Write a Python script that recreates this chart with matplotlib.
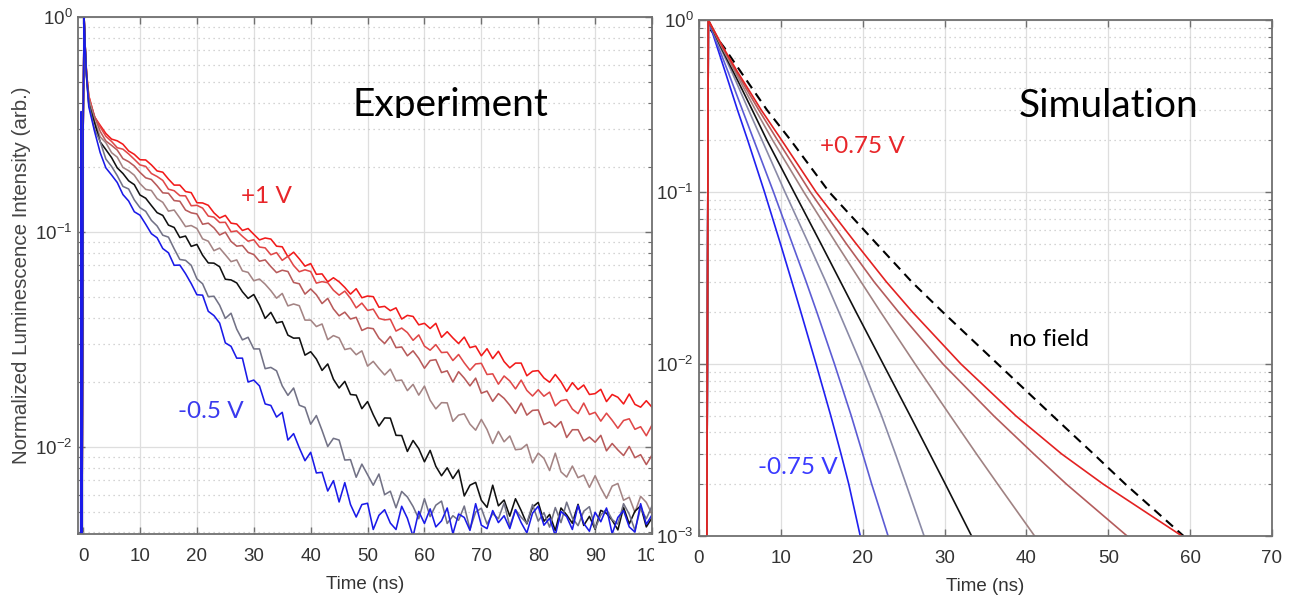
import matplotlib
matplotlib.use('Agg')
import matplotlib.pyplot as plt
import numpy as np
from matplotlib.patches import Rectangle
from matplotlib.transforms import Bbox, TransformedBbox

plt.rcParams.update({
    'font.family': ['Liberation Sans', 'DejaVu Sans'],
    'font.size': 13.5,
    'axes.unicode_minus': False,
})

# ------------------------------------
# experiment data (log10 of normalized intensity)
# ------------------------------------
exp_time_early = [-1.0, -0.45, -0.35, -0.25, 0.0, 0.17, 0.35, 0.6]
exp_time = exp_time_early + list(range(1, 101))

exp_plus1V = [-3.0, -3.0, -3.0, -3.0, -0.55, 0.0, -0.13, -0.26,
    -0.368, -0.465, -0.504, -0.542, -0.568, -0.576, -0.592, -0.623, -0.639, -0.664,
    -0.665, -0.688, -0.716, -0.722, -0.754, -0.782, -0.782, -0.812, -0.817, -0.864,
    -0.865, -0.876, -0.911, -0.935, -0.923, -0.959, -0.963, -0.993, -0.984, -1.011,
    -1.037, -1.028, -1.033, -1.066, -1.069, -1.115, -1.094, -1.125, -1.159, -1.147,
    -1.197, -1.195, -1.232, -1.213, -1.232, -1.258, -1.289, -1.264, -1.306, -1.298,
    -1.301, -1.350, -1.346, -1.366, -1.353, -1.405, -1.388, -1.393, -1.432, -1.425,
    -1.449, -1.425, -1.490, -1.464, -1.493, -1.519, -1.489, -1.538, -1.531, -1.576,
    -1.543, -1.589, -1.555, -1.603, -1.632, -1.610, -1.610, -1.669, -1.648, -1.645,
    -1.679, -1.699, -1.663, -1.697, -1.742, -1.701, -1.733, -1.712, -1.756, -1.752,
    -1.732, -1.789, -1.756, -1.769, -1.800, -1.754, -1.802, -1.815, -1.785, -1.815]

exp_plus075V = [-3.0, -3.0, -3.0, -3.0, -0.55, 0.0, -0.13, -0.26,
    -0.368, -0.464, -0.511, -0.555, -0.579, -0.608, -0.615, -0.637, -0.662, -0.688,
    -0.695, -0.728, -0.742, -0.760, -0.801, -0.808, -0.831, -0.832, -0.878, -0.876,
    -0.889, -0.926, -0.931, -0.956, -0.955, -0.999, -0.995, -1.020, -1.043, -1.036,
    -1.070, -1.074, -1.106, -1.096, -1.132, -1.113, -1.156, -1.185, -1.176, -1.184,
    -1.238, -1.231, -1.236, -1.271, -1.294, -1.275, -1.309, -1.353, -1.331, -1.365,
    -1.359, -1.402, -1.409, -1.406, -1.461, -1.447, -1.468, -1.504, -1.479, -1.531,
    -1.550, -1.524, -1.561, -1.559, -1.598, -1.570, -1.609, -1.643, -1.614, -1.611,
    -1.663, -1.660, -1.708, -1.670, -1.693, -1.730, -1.689, -1.737, -1.763, -1.734,
    -1.764, -1.745, -1.809, -1.785, -1.780, -1.824, -1.845, -1.796, -1.849, -1.839,
    -1.880, -1.843, -1.876, -1.913, -1.877, -1.869, -1.918, -1.906, -1.948, -1.898]

exp_plus05V = [-3.0, -3.0, -3.0, -3.0, -0.55, 0.0, -0.13, -0.27,
    -0.385, -0.461, -0.532, -0.577, -0.597, -0.619, -0.659, -0.673, -0.693, -0.723,
    -0.748, -0.756, -0.785, -0.818, -0.820, -0.854, -0.857, -0.898, -0.911, -0.916,
    -0.964, -0.959, -0.981, -1.014, -1.001, -1.044, -1.066, -1.063, -1.095, -1.105,
    -1.136, -1.130, -1.161, -1.189, -1.178, -1.184, -1.235, -1.241, -1.289, -1.265,
    -1.292, -1.333, -1.309, -1.358, -1.390, -1.373, -1.405, -1.397, -1.458, -1.446,
    -1.450, -1.494, -1.519, -1.486, -1.538, -1.535, -1.576, -1.553, -1.588, -1.634,
    -1.598, -1.594, -1.654, -1.646, -1.698, -1.650, -1.680, -1.716, -1.680, -1.750,
    -1.740, -1.788, -1.752, -1.774, -1.806, -1.844, -1.796, -1.852, -1.830, -1.828,
    -1.896, -1.884, -1.908, -1.882, -1.956, -1.920, -1.920, -1.972, -1.954, -1.978,
    -1.946, -2.018, -1.984, -2.014, -2.040, -1.998, -2.050, -2.036, -2.082, -2.038]

exp_plus025V = [-3.0, -3.0, -3.0, -3.0, -0.55, 0.0, -0.13, -0.27,
    -0.380, -0.482, -0.558, -0.585, -0.631, -0.652, -0.700, -0.715, -0.736, -0.775,
    -0.802, -0.807, -0.845, -0.862, -0.903, -0.898, -0.935, -0.975, -0.970, -0.984,
    -1.032, -1.043, -1.087, -1.075, -1.106, -1.138, -1.130, -1.181, -1.188, -1.227,
    -1.219, -1.243, -1.273, -1.308, -1.286, -1.344, -1.335, -1.343, -1.410, -1.410,
    -1.440, -1.428, -1.501, -1.482, -1.493, -1.547, -1.541, -1.571, -1.553, -1.624,
    -1.602, -1.635, -1.665, -1.638, -1.692, -1.689, -1.738, -1.709, -1.759, -1.717,
    -1.783, -1.823, -1.794, -1.795, -1.881, -1.852, -1.846, -1.894, -1.922, -1.872,
    -1.919, -1.984, -1.928, -1.976, -1.949, -2.013, -2.010, -1.988, -2.074, -2.029,
    -2.053, -2.110, -2.029, -2.116, -2.140, -2.089, -2.143, -2.131, -2.188, -2.134,
    -2.191, -2.239, -2.182, -2.170, -2.248, -2.234, -2.304, -2.230, -2.258, -2.313]

exp_0V = [-3.0, -3.0, -3.0, -3.0, -0.55, 0.0, -0.13, -0.27,
    -0.404, -0.492, -0.581, -0.617, -0.654, -0.702, -0.728, -0.762, -0.780, -0.828,
    -0.843, -0.877, -0.910, -0.923, -0.968, -0.979, -1.026, -1.019, -1.067, -1.058,
    -1.108, -1.144, -1.145, -1.162, -1.220, -1.223, -1.237, -1.278, -1.309, -1.291,
    -1.340, -1.402, -1.374, -1.423, -1.417, -1.480, -1.494, -1.493, -1.573, -1.557,
    -1.591, -1.644, -1.614, -1.685, -1.726, -1.695, -1.756, -1.759, -1.822, -1.789,
    -1.850, -1.903, -1.865, -1.866, -1.946, -1.947, -2.021, -1.970, -2.008, -2.069,
    -2.016, -2.090, -2.134, -2.097, -2.147, -2.107, -2.228, -2.178, -2.165, -2.248,
    -2.281, -2.178, -2.274, -2.247, -2.322, -2.241, -2.296, -2.358, -2.280, -2.258,
    -2.346, -2.314, -2.389, -2.284, -2.316, -2.355, -2.267, -2.365, -2.323, -2.383,
    -2.295, -2.309, -2.341, -2.386, -2.281, -2.358, -2.299, -2.274, -2.372, -2.330]

exp_minus025V = [-3.0, -3.0, -3.0, -3.0, -0.55, 0.0, -0.13, -0.28,
    -0.406, -0.521, -0.580, -0.661, -0.695, -0.738, -0.788, -0.800, -0.851, -0.887,
    -0.904, -0.946, -0.972, -1.015, -1.024, -1.078, -1.128, -1.132, -1.155, -1.218,
    -1.241, -1.301, -1.299, -1.341, -1.402, -1.378, -1.452, -1.502, -1.490, -1.544,
    -1.544, -1.636, -1.630, -1.646, -1.716, -1.760, -1.726, -1.806, -1.816, -1.894,
    -1.854, -1.923, -1.998, -1.960, -1.968, -2.061, -2.059, -2.141, -2.080, -2.129,
    -2.178, -2.126, -2.222, -2.206, -2.283, -2.207, -2.233, -2.277, -2.334, -2.241,
    -2.324, -2.271, -2.252, -2.356, -2.320, -2.341, -2.275, -2.383, -2.303, -2.285,
    -2.359, -2.310, -2.334, -2.261, -2.369, -2.292, -2.327, -2.355, -2.268, -2.345,
    -2.306, -2.373, -2.282, -2.352, -2.257, -2.331, -2.366, -2.299, -2.278, -2.380,
    -2.317, -2.289, -2.338, -2.359, -2.264, -2.313, -2.387, -2.285, -2.334, -2.275]

exp_minus05V = [-3.0, -3.0, -0.44, -3.0, -0.55, 0.0, -0.14, -0.28,
    -0.418, -0.531, -0.631, -0.702, -0.735, -0.770, -0.826, -0.856, -0.906, -0.922,
    -0.964, -1.008, -1.027, -1.077, -1.097, -1.155, -1.154, -1.194, -1.240, -1.292,
    -1.294, -1.369, -1.389, -1.424, -1.516, -1.532, -1.587, -1.587, -1.698, -1.689,
    -1.716, -1.800, -1.807, -1.861, -1.839, -1.968, -1.938, -2.004, -2.064, -2.025,
    -2.121, -2.118, -2.205, -2.157, -2.256, -2.166, -2.268, -2.326, -2.268, -2.262,
    -2.384, -2.318, -2.292, -2.354, -2.384, -2.276, -2.332, -2.416, -2.300, -2.356,
    -2.288, -2.372, -2.344, -2.284, -2.404, -2.312, -2.328, -2.388, -2.264, -2.364,
    -2.380, -2.296, -2.352, -2.320, -2.380, -2.292, -2.352, -2.400, -2.308, -2.276,
    -2.364, -2.332, -2.412, -2.300, -2.324, -2.384, -2.272, -2.356, -2.392, -2.304,
    -2.348, -2.284, -2.404, -2.328, -2.296, -2.372, -2.396, -2.264, -2.360, -2.316]

exp_series = [exp_plus1V, exp_plus075V, exp_plus05V, exp_plus025V, exp_0V, exp_minus025V, exp_minus05V]
exp_colors = ['#f21a1a', '#e04848', '#b85a5a', '#a48484', '#111111', '#727286', '#1a1ae8']

# ------------------------------------
# simulation data: time (ns) at which each curve crosses the intensity levels
# ------------------------------------
sim_levels = [3e-4, 1.0, 0.7, 0.5, 0.3, 0.2, 0.1, 0.05, 0.03, 0.02, 0.01, 0.005, 0.003, 0.002, 0.001]

sim_minus075V = [0.93, 1.14, 2.2, 3.2, 4.7, 5.95, 8.0, 9.95, 11.35, 12.45, 14.3, 16.1, 17.35, 18.3, 19.7]
sim_minus05V = [0.93, 1.14, 2.35, 3.55, 5.3, 6.7, 9.1, 11.4, 13.1, 14.4, 16.55, 18.6, 20.0, 21.1, 23.1]
sim_minus025V = [0.93, 1.14, 2.55, 4.0, 6.05, 7.7, 10.5, 13.4, 15.5, 17.1, 19.8, 22.3, 24.0, 25.3, 27.5]
sim_0V = [0.93, 1.14, 2.65, 4.2, 6.5, 8.3, 11.6, 14.9, 17.3, 19.2, 22.5, 25.8, 28.2, 30.1, 33.3]
sim_plus025V = [0.93, 1.14, 2.75, 4.4, 6.9, 9.0, 12.8, 16.8, 19.8, 22.2, 26.4, 30.7, 33.9, 36.5, 41.0]
sim_plus05V = [0.93, 1.14, 2.85, 4.55, 7.3, 9.6, 13.6, 18.0, 21.4, 24.4, 29.8, 36.0, 40.9, 44.9, 52.3]
sim_plus075V = [0.93, 1.14, 2.9, 4.7, 7.6, 10.1, 14.3, 19.2, 22.9, 26.1, 32.0, 38.7, 44.3, 49.4, 59.0]

sim_series = [sim_minus075V, sim_minus05V, sim_minus025V, sim_0V, sim_plus025V, sim_plus05V, sim_plus075V]
sim_colors = ['#2020f0', '#5c5cd4', '#8a8aa6', '#111111', '#a08282', '#b45c5c', '#e32222']

nofield_time = [1.40, 3.0, 5.1, 8.3, 11.2, 15.9, 21.7, 26.0, 29.8, 36.5, 43.2, 48.2, 52.1, 59.2]
nofield_level = [0.88, 0.7, 0.5, 0.3, 0.2, 0.1, 0.05, 0.03, 0.02, 0.01, 0.005, 0.003, 0.002, 0.001]


def style_axes(ax):
    ax.set_yscale('log')
    ax.grid(True, which='major', color='#dedede', lw=0.9, ls='-')
    ax.grid(True, which='minor', axis='y', color='#c6c6c6', lw=0.9, ls=(0, (1, 3)))
    ax.set_axisbelow(True)
    ax.tick_params(which='both', direction='in', top=True, right=True,
                   colors='#707070', labelcolor='#333333', labelsize=13.5)
    ax.tick_params(which='major', length=5, width=1.0)
    ax.tick_params(which='minor', length=3, width=0.8)
    for s in ax.spines.values():
        s.set_color('#707070')
        s.set_linewidth(1.3)


fig = plt.figure(figsize=(12.9, 6.0), dpi=100)
ax1 = fig.add_axes([78 / 1290, 1 - 534 / 600, 574 / 1290, 517 / 600])
ax2 = fig.add_axes([699 / 1290, 1 - 536 / 600, 573 / 1290, 516 / 600], zorder=2)

# white strip: the right picture is pasted over the edge of the left one
fig.add_artist(Rectangle((653.5 / 1290, 0), 1, 1, transform=fig.transFigure,
                         facecolor='white', edgecolor='none', zorder=1))

# ---------------- Experiment ----------------
style_axes(ax1)
for vals, c in zip(exp_series, exp_colors):
    ax1.plot(exp_time, 10 ** np.array(vals), color=c, lw=1.15)
ax1.set_xlim(-0.9, 100)
ax1.set_ylim(10 ** -2.405, 1)
ax1.set_xticks(range(0, 101, 10))
ax1.set_xlabel('Time (ns)', color='#333333', labelpad=8)
ax1.set_ylabel('Normalized Luminescence Intensity (arb.)', color='#444444',
               fontsize=14.8, labelpad=3)
ax1.tick_params(axis='x', pad=10)
ax1.tick_params(axis='y', pad=4)

t = ax1.text(0.648, 0.8085, 'Experiment', transform=ax1.transAxes, ha='center',
             va='baseline', fontsize=28, family='Lato', color='black', clip_on=True)
t.set_clip_box(TransformedBbox(Bbox([[0, 1 - 117.5 / 600], [1, 1]]), fig.transFigure))
ax1.text(32.3, 10 ** -0.837, '+1 V', color='#e8262a', fontsize=17.5, family='Lato',
         ha='center', va='center')
ax1.text(22.5, 10 ** -1.837, '-0.5 V', color='#3a3aee', fontsize=17.5, family='Lato',
         ha='center', va='center')

# ---------------- Simulation ----------------
style_axes(ax2)
ax2.plot(nofield_time, nofield_level, color='black', lw=1.5, ls=(0, (4.5, 3)))
for times, c in zip(sim_series, sim_colors):
    ax2.plot(times, sim_levels, color=c, lw=1.2)
ax2.set_xlim(0, 70)
ax2.set_ylim(1e-3, 1)
ax2.set_xticks(range(0, 71, 10))
ax2.set_xlabel('Time (ns)', color='#333333', labelpad=8)
ax2.tick_params(axis='x', pad=10)
ax2.tick_params(axis='y', pad=4)

ax2.text(0.7155, 0.812, 'Simulation', transform=ax2.transAxes, ha='center',
         va='baseline', fontsize=28, family='Lato', color='black')
ax2.text(19.9, 10 ** -0.738, '+0.75 V', color='#e8262a', fontsize=17.5, family='Lato',
         ha='center', va='center')
ax2.text(12.1, 10 ** -2.599, '-0.75 V', color='#3a3aff', fontsize=17.5, family='Lato',
         ha='center', va='center')
ax2.text(42.8, 10 ** -1.855, 'no field', color='black', fontsize=17.5, family='Lato',
         ha='center', va='center')

fig.savefig('out.png', dpi=100)
